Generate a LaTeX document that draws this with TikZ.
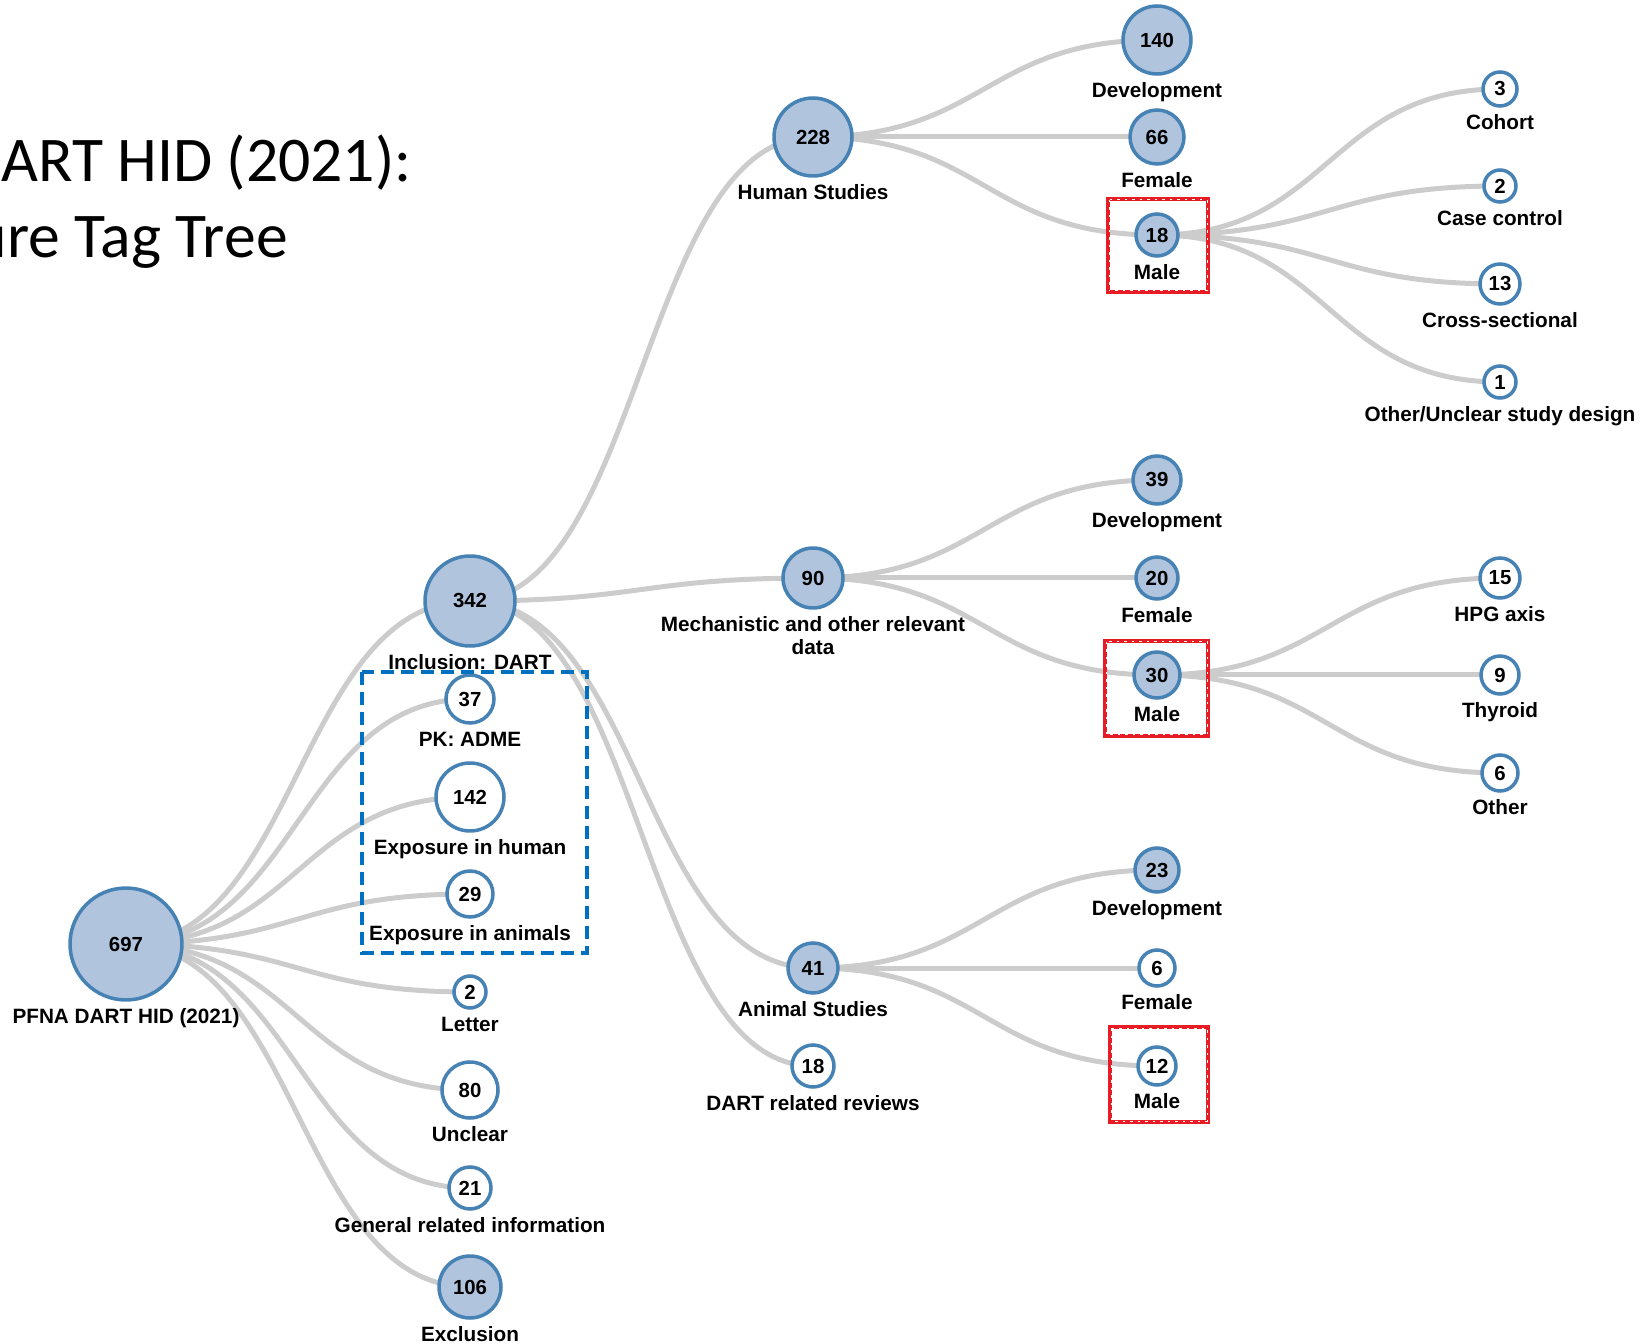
\documentclass[tikz,border=0pt]{standalone}
\usepackage{fontspec}
\setmainfont{Liberation Sans}
\newfontfamily\titlefont{Carlito}
\usetikzlibrary{calc,backgrounds}

\definecolor{steel}{RGB}{70,130,180}
\definecolor{lightsteel}{RGB}{176,196,222}
\definecolor{linkgray}{RGB}{204,204,204}
\definecolor{boxblue}{RGB}{0,112,192}
\definecolor{boxred}{RGB}{232,28,36}

\tikzset{
  tag/.style={circle, draw=steel, line width=2pt, inner sep=0pt,
    minimum size=#1*0.04cm, font=\fontsize{11.6}{13}\selectfont\bfseries},
  full/.style={tag=#1, fill=lightsteel},
  leaf/.style={tag=#1, fill=white},
  every label/.style={font=\fontsize{11.8}{13.1}\selectfont\bfseries,
    inner sep=0pt, text height=0.3cm, text depth=0.09cm, yshift=-0.13cm},
  link/.style={draw=linkgray, line width=0.1cm},
  heading/.style={font=\titlefont\fontsize{36.25}{43}\selectfont,
    anchor=base east, inner sep=0pt}
}

\begin{document}
\begin{tikzpicture}[x=0.02cm, y=-0.02cm]
    \useasboundingbox (0,0) rectangle (1644,1344);
    \clip (0,0) rectangle (1644,1344);

    \node[heading] (title1) at (412,182) {DART HID (2021):};
    \node[heading] (title2) at (288,258) {ure Tag Tree};

    % first level
    \node[full=56, label=below:PFNA DART HID (2021)] (root) at (126,944) {697};

    \node[full=45, label=below:Inclusion: DART] (incl) at (470,601) {342};
    \node[leaf=24, label=below:PK: ADME] (pk) at (470,699) {37};
    \node[leaf=34, label=below:Exposure in human] (exphum) at (470,797) {142};
    \node[leaf=23, label=below:Exposure in animals] (expani) at (470,894) {29};
    \node[leaf=16, label=below:Letter] (letter) at (470,992) {2};
    \node[leaf=28, label=below:Unclear] (unclear) at (470,1090) {80};
    \node[leaf=21, label=below:General related information] (general) at (470,1188) {21};
    \node[full=31, label=below:Exclusion] (excl) at (470,1287) {106};

    % inclusion branches
    \node[full=39, label=below:Human Studies] (human) at (813,137) {228};
    \node[full=30, label={[align=center, text height=0.76cm]below:Mechanistic and other relevant\\data}] (mech) at (813,578) {90};
    \node[full=25, label=below:Animal Studies] (animal) at (813,968) {41};
    \node[leaf=21, label=below:DART related reviews] (reviews) at (813,1066) {18};

    \node[full=34, label=below:Development] (hdev) at (1157,40) {140};
    \node[full=27, label=below:Female] (hfem) at (1157,137) {66};
    \node[full=21, label=below:Male] (hmale) at (1157,235) {18};

    \node[full=24, label=below:Development] (mdev) at (1157,480) {39};
    \node[full=21, label=below:Female] (mfem) at (1157,578) {20};
    \node[full=23, label=below:Male] (mmale) at (1157,675) {30};

    \node[full=22, label=below:Development] (adev) at (1157,870) {23};
    \node[leaf=18, label=below:Female] (afem) at (1157,968) {6};
    \node[leaf=19, label=below:Male] (amale) at (1157,1066) {12};

    % last level
    \node[leaf=17, label=below:Cohort] (cohort) at (1500,89) {3};
    \node[leaf=16, label=below:Case control] (casectl) at (1500,186) {2};
    \node[leaf=20, label=below:Cross-sectional] (crosssec) at (1500,284) {13};
    \node[leaf=16, label=below:Other/Unclear study design] (otherdes) at (1500,382) {1};

    \node[leaf=20, label=below:HPG axis] (hpg) at (1500,578) {15};
    \node[leaf=19, label=below:Thyroid] (thyroid) at (1500,675) {9};
    \node[leaf=18, label=below:Other] (mother) at (1500,773) {6};

    \begin{scope}[on background layer]
        \foreach \a/\b in {root/incl, root/pk, root/exphum, root/expani, root/letter,
            root/unclear, root/general, root/excl, incl/human, incl/mech, incl/animal,
            incl/reviews, human/hdev, human/hfem, human/hmale, hmale/cohort,
            hmale/casectl, hmale/crosssec, hmale/otherdes, mech/mdev, mech/mfem,
            mech/mmale, mmale/hpg, mmale/thyroid, mmale/mother, animal/adev,
            animal/afem, animal/amale}
            \draw[link] let \p1=(\a.center), \p2=(\b.center) in
                (\p1) .. controls ({(\x1+\x2)/2},\y1) and ({(\x1+\x2)/2},\y2) .. (\p2);
    \end{scope}

    % highlight boxes
    \draw[boxblue, line width=0.08cm, dash pattern=on 0.26cm off 0.14cm] (362,672) rectangle (587,953);

    \draw[boxred, line width=0.07cm] (1108,199) rectangle (1208,292);
    \draw[white, line width=0.02cm, dash pattern=on 0.05cm off 0.1cm] (1109,200) rectangle (1207,291);
    \draw[boxred, line width=0.07cm] (1105,641) rectangle (1208,736);
    \draw[white, line width=0.02cm, dash pattern=on 0.05cm off 0.1cm] (1106,642) rectangle (1207,735);
    \draw[boxred, line width=0.07cm] (1110,1027) rectangle (1208,1122);
    \draw[white, line width=0.02cm, dash pattern=on 0.05cm off 0.1cm] (1111,1028) rectangle (1207,1121);
\end{tikzpicture}
\end{document}
